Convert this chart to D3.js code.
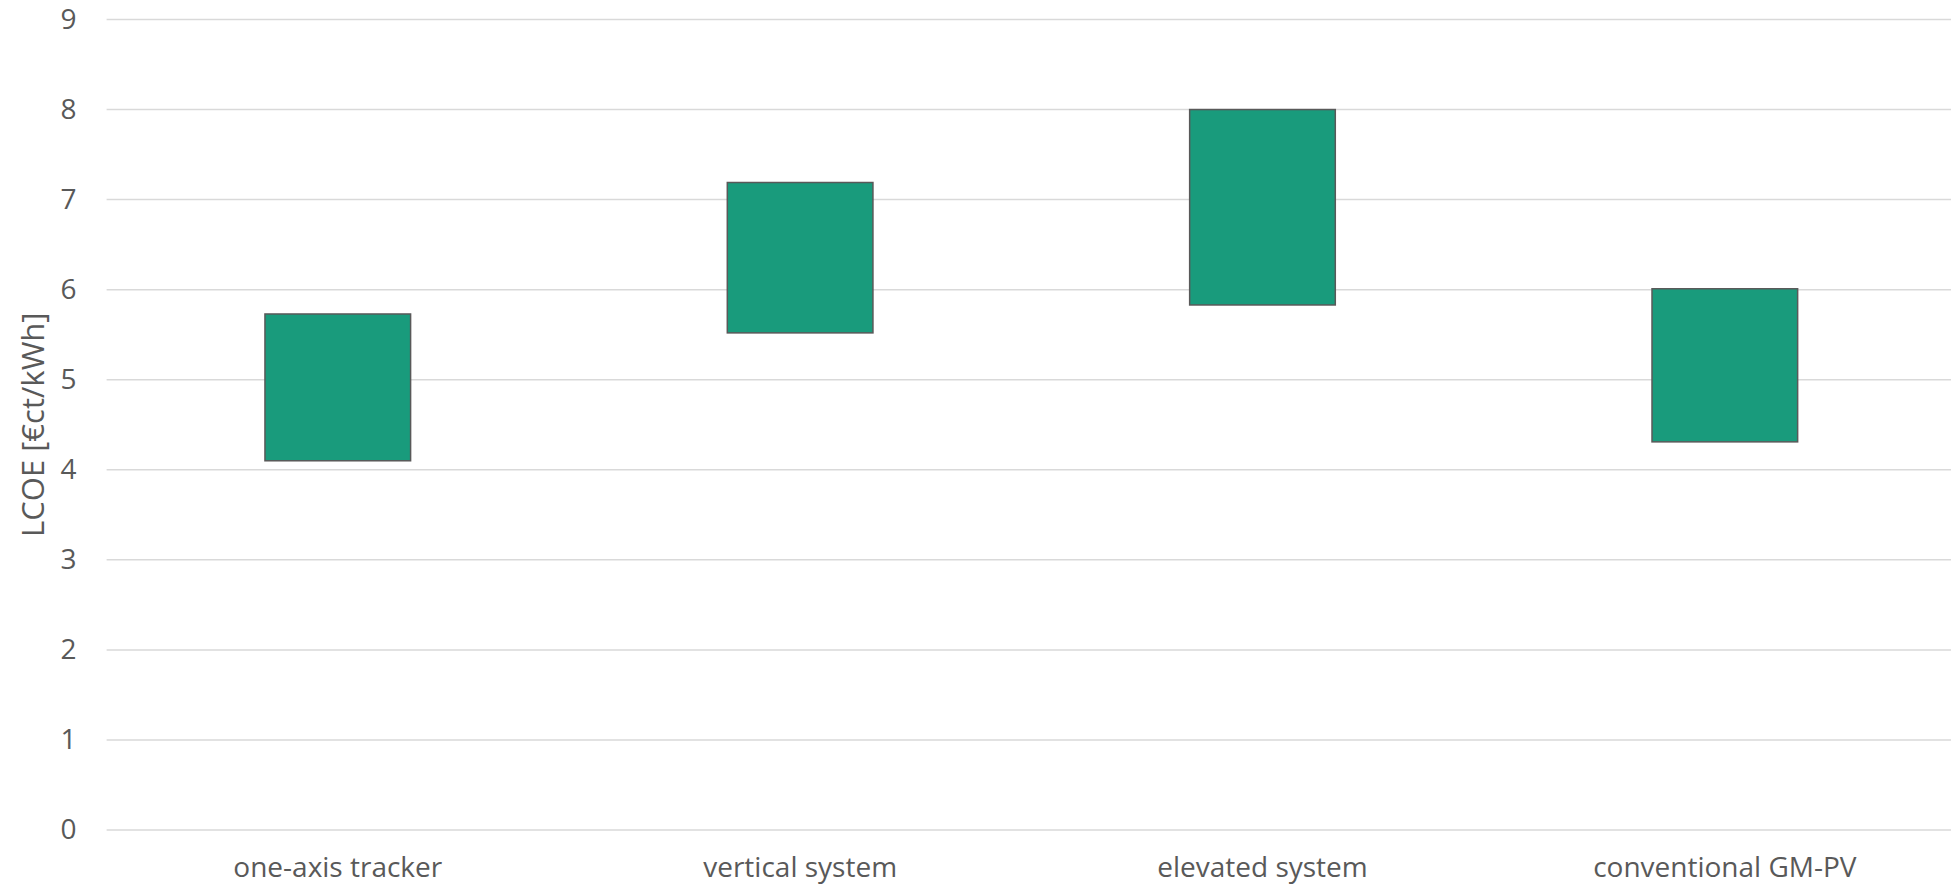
<!DOCTYPE html>
<html>
<head>
<meta charset="utf-8">
<script src="https://cdn.jsdelivr.net/npm/d3@7"></script>
<style>
  html, body { margin: 0; padding: 0; background: #ffffff; }
  svg { display: block; }
  text { font-family: "Open Sans", "Noto Sans", sans-serif; fill: #595959; }
</style>
</head>
<body>
<div id="chart"></div>
<script>
// LCOE ranges per system type (low / high, €ct/kWh)
const categories = ["one-axis tracker", "vertical system", "elevated system", "conventional GM-PV"];
const lowValues  = [4.10, 5.52, 5.83, 4.31];
const highValues = [5.73, 7.19, 8.00, 6.01];
const yTicks = [0, 1, 2, 3, 4, 5, 6, 7, 8, 9];
const yTitle = "LCOE [€ct/kWh]";

const W = 1951, H = 887;
const margin = { top: 19.5, right: -5, bottom: 57, left: 106.6 };
const innerW = W - margin.left - margin.right;
const innerH = H - margin.top - margin.bottom;

const svg = d3.select("#chart").append("svg")
  .attr("width", W).attr("height", H);

const g = svg.append("g").attr("transform", `translate(${margin.left},${margin.top})`);

const x = d3.scaleBand().domain(categories).range([0, innerW]).paddingInner(0).paddingOuter(0);
const y = d3.scaleLinear().domain([0, 9]).range([innerH, 0]);

// horizontal gridlines
g.append("g").selectAll("line").data(yTicks).join("line")
  .attr("x1", 0).attr("x2", innerW)
  .attr("y1", d => y(d)).attr("y2", d => y(d))
  .attr("stroke", "#d9d9d9").attr("stroke-width", 1.5);

// y axis labels
const yAxis = d3.axisLeft(y).tickValues(yTicks).tickSize(0).tickPadding(30).tickFormat(d3.format("d"));
g.append("g").call(yAxis)
  .call(s => s.select(".domain").remove())
  .call(s => s.selectAll("text").attr("font-size", 28).attr("fill", "#595959")
    .style("font-family", "'Open Sans', sans-serif"));

// x axis labels
const xAxis = d3.axisBottom(x).tickSize(0).tickPadding(27);
g.append("g").attr("transform", `translate(0,${innerH})`).call(xAxis)
  .call(s => s.select(".domain").remove())
  .call(s => s.selectAll("text").attr("font-size", 28).attr("fill", "#595959")
    .style("font-family", "'Open Sans', sans-serif"));

// floating range bars
const barW = x.bandwidth() * 0.315;
g.append("g").selectAll("rect").data(categories).join("rect")
  .attr("x", d => x(d) + (x.bandwidth() - barW) / 2)
  .attr("width", barW)
  .attr("y", (d, i) => y(highValues[i]))
  .attr("height", (d, i) => y(lowValues[i]) - y(highValues[i]))
  .attr("fill", "#199b7c")
  .attr("stroke", "#595959").attr("stroke-width", 1.5);

// y axis title
svg.append("text")
  .attr("transform", `translate(44, ${margin.top + innerH / 2}) rotate(-90)`)
  .attr("text-anchor", "middle")
  .attr("font-size", 31)
  .text(yTitle);
</script>
</body>
</html>
